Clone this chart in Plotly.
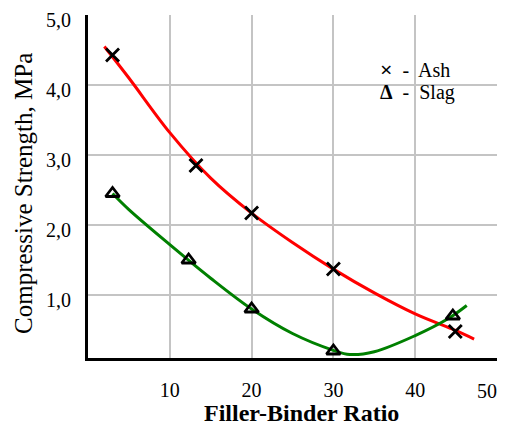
import plotly.graph_objects as go

# Measured points
ash_x = [3, 13.2, 20, 30, 44.9]
ash_y = [4.43, 2.85, 2.17, 1.37, 0.48]
slag_x = [3, 12.3, 20, 30, 44.6]
slag_y = [2.45, 1.50, 0.80, 0.20, 0.70]

# Trend curves
ash_fit_x = [2, 5, 10, 15, 20, 25, 30, 35, 40, 45, 47.2]
ash_fit_y = [4.55, 4.10, 3.32, 2.67, 2.17, 1.75, 1.37, 1.03, 0.73, 0.49, 0.37]
slag_fit_x = [3, 5, 10, 15, 20, 25, 30, 32, 35, 40, 44, 46.3]
slag_fit_y = [2.45, 2.22, 1.72, 1.24, 0.80, 0.45, 0.21, 0.15, 0.19, 0.42, 0.66, 0.85]

x_ticks = [10, 20, 30, 40, 50]
x_tick_labels = ["10", "20", "30", "40", "50"]
y_ticks = [1, 2, 3, 4, 5]
y_tick_labels = ["1,0", "2,0", "3,0", "4,0", "5,0"]

SERIF = "Liberation Serif, Times New Roman, serif"

fig = go.Figure()
fig.add_trace(go.Scatter(x=ash_fit_x, y=ash_fit_y, mode="lines", line_shape="spline",
                         line=dict(color="#ff0000", width=3), showlegend=False, hoverinfo="skip"))
fig.add_trace(go.Scatter(x=slag_fit_x, y=slag_fit_y, mode="lines", line_shape="spline",
                         line=dict(color="#008000", width=3), showlegend=False, hoverinfo="skip"))
fig.add_trace(go.Scatter(x=ash_x, y=ash_y, mode="markers", name="Ash",
                         marker=dict(symbol="x-thin", size=13, line=dict(color="black", width=2.8)),
                         showlegend=False))
fig.add_trace(go.Scatter(x=slag_x, y=slag_y, mode="markers", name="Slag",
                         marker=dict(symbol="triangle-up-open", size=12, color="black",
                                     line=dict(color="black", width=2.8)),
                         showlegend=False))

# legend-like labels
fig.add_annotation(xref="paper", yref="paper", x=0.71, y=0.84, xanchor="left", yanchor="middle",
                   text="<b><span style='font-size:22px'>×</span></b>  -  Ash", showarrow=False,
                   font=dict(family=SERIF, size=20, color="black"))
fig.add_annotation(xref="paper", yref="paper", x=0.71, y=0.773, xanchor="left", yanchor="middle",
                   text="<b>Δ</b>  -  Slag", showarrow=False,
                   font=dict(family=SERIF, size=20, color="black"))

# axis titles
fig.add_annotation(xref="paper", yref="paper", x=0.523, y=-0.16, xanchor="center", yanchor="middle",
                   text="<b>Filler-Binder Ratio</b>", showarrow=False,
                   font=dict(family=SERIF, size=24, color="black"))
fig.add_annotation(xref="paper", yref="paper", x=-0.159, y=0.481, xanchor="center", yanchor="middle",
                   text="Compressive Strength, MPa", showarrow=False, textangle=-90,
                   font=dict(family=SERIF, size=25, color="black"))

# last x label drawn right-aligned so it stays inside the page
x_tick_text = x_tick_labels[:-1] + [""]
fig.add_annotation(xref="paper", yref="paper", x=1.006, y=-0.097, xanchor="right", yanchor="middle",
                   text=x_tick_labels[-1], showarrow=False,
                   font=dict(family=SERIF, size=20, color="black"))

fig.update_layout(
    width=500, height=418,
    margin=dict(l=80, r=11, t=7, b=68),
    plot_bgcolor="white", paper_bgcolor="white",
    font=dict(family=SERIF, color="black"),
    xaxis=dict(range=[0, 50], tickvals=x_ticks, ticktext=x_tick_text,
               automargin=False, ticklabeloverflow="allow",
               showgrid=True, gridcolor="#c4c4c4", gridwidth=2,
               showline=True, linecolor="black", linewidth=3,
               ticks="outside", ticklen=12, tickcolor="rgba(0,0,0,0)",
               tickfont=dict(family=SERIF, size=20),
               zeroline=False),
    yaxis=dict(range=[0.1, 5.0], tickvals=y_ticks, ticktext=y_tick_labels,
               automargin=False, ticklabeloverflow="allow", ticklabelshift=5,
               showgrid=True, gridcolor="#c4c4c4", gridwidth=2,
               showline=True, linecolor="black", linewidth=3,
               ticks="outside", ticklen=10, tickcolor="rgba(0,0,0,0)",
               tickfont=dict(family=SERIF, size=20),
               zeroline=False),
)

fig.write_html("out.html")
